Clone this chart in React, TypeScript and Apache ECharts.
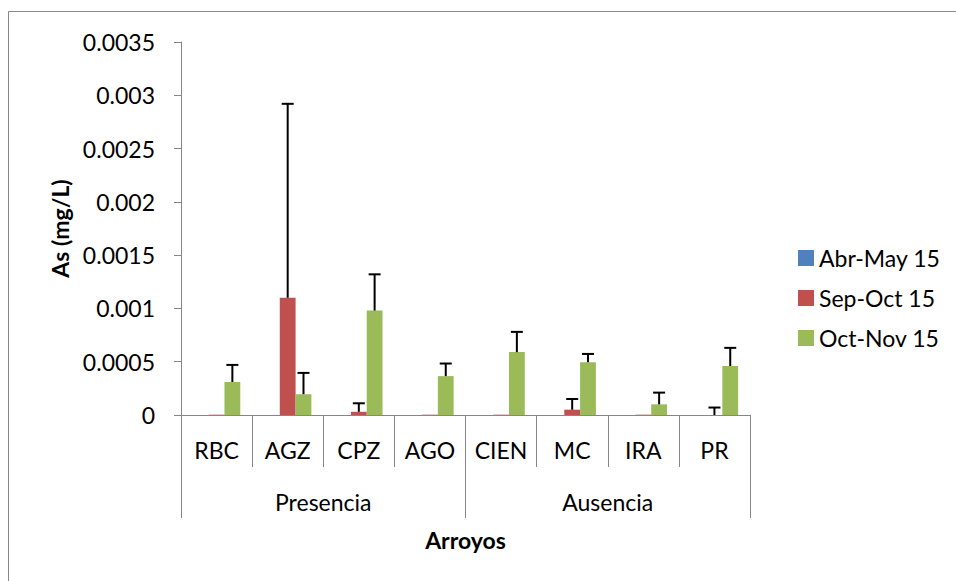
import React, { useEffect, useRef } from "react";
import * as echarts from "echarts";

const categories = ["RBC", "AGZ", "CPZ", "AGO", "CIEN", "MC", "IRA", "PR"];
const groups = ["Presencia", "Ausencia"];
const seriesNames = ["Abr-May 15", "Sep-Oct 15", "Oct-Nov 15"];
const abrMay = [0, 0, 0, 0, 0, 0, 0, 0];
const sepOct = [0.000003, 0.0011, 0.00003, 0.000003, 0.000003, 0.00005, 0.000003, 0];
const sepOctErr = [0, 0.00182, 0.00008, 0, 0, 0.0001, 0, 0.00007];
const octNov = [0.00031, 0.000195, 0.00098, 0.000365, 0.00059, 0.000495, 0.0001, 0.00046];
const octNovErr = [0.00016, 0.0002, 0.00034, 0.000118, 0.00019, 0.000078, 0.00011, 0.00017];
const colors = ["#4F81BD", "#C0504D", "#9BBB59"];

const FONT = "Lato";
const GRAY = "#868686";

function errRenderer(offset: number) {
  return (params: any, api: any) => {
    const idx = api.value(0);
    const v = api.value(1);
    const e = api.value(2);
    if (!e) return null;
    const cw = api.size([1, 0])[0];
    const bw = cw / 4.5;
    const p0 = api.coord([idx, v]);
    const p1 = api.coord([idx, v + e]);
    const x = p0[0] + offset * bw;
    return {
      type: "group",
      children: [
        { type: "line", shape: { x1: x, y1: p0[1], x2: x, y2: p1[1] }, style: { stroke: "#000", lineWidth: 2 } },
        { type: "line", shape: { x1: x - 6, y1: p1[1], x2: x + 6, y2: p1[1] }, style: { stroke: "#000", lineWidth: 2 } },
      ],
    };
  };
}

export default function App() {
  const ref = useRef<HTMLDivElement>(null);
  useEffect(() => {
    if (!ref.current) return;
    const chart = echarts.init(ref.current, undefined, { renderer: "svg" });
    const valueSets = [abrMay, sepOct, octNov];
    chart.setOption({
      animation: false,
      backgroundColor: "#fff",
      textStyle: { fontFamily: FONT },
      graphic: [
        {
          type: "rect",
          shape: { x: 8.5, y: 11.5, width: 1200, height: 1200 },
          style: { fill: "none", stroke: "#898989", lineWidth: 1 },
          silent: true,
        },
      ],
      legend: {
        orient: "vertical",
        left: 793,
        top: 241,
        itemWidth: 16,
        itemHeight: 16,
        itemGap: 16,
        icon: "rect",
        data: seriesNames,
        textStyle: { fontFamily: FONT, fontSize: 23, color: "#000", lineHeight: 24 },
      },
      grid: { left: 181, top: 42, right: 206, bottom: 166, containLabel: false },
      xAxis: [
        {
          type: "category",
          data: categories,
          position: "bottom",
          axisLine: { show: true, lineStyle: { color: GRAY, width: 1 } },
          axisTick: { show: true, length: 52, lineStyle: { color: GRAY, width: 1 } },
          axisLabel: { margin: 23, fontFamily: FONT, fontSize: 23, color: "#000" },
          name: "Arroyos",
          nameLocation: "middle",
          nameGap: 113,
          nameTextStyle: { fontFamily: FONT, fontSize: 23, fontWeight: "bold", color: "#000" },
        },
        {
          type: "category",
          data: groups,
          position: "bottom",
          axisLine: { show: false },
          axisTick: { show: true, length: 103, lineStyle: { color: GRAY, width: 1 } },
          axisLabel: { margin: 75, fontFamily: FONT, fontSize: 23, color: "#000" },
        },
      ],
      yAxis: {
        type: "value",
        min: 0,
        max: 0.0035,
        interval: 0.0005,
        axisLine: { show: true, lineStyle: { color: GRAY, width: 1 } },
        axisTick: { show: true, length: 7, lineStyle: { color: GRAY } },
        splitLine: { show: false },
        axisLabel: {
          margin: 26,
          fontFamily: FONT,
          fontSize: 23,
          color: "#000",
          formatter: (v: number) => String(+v.toFixed(4)),
        },
        name: "As (mg/L)",
        nameLocation: "middle",
        nameGap: 108,
        nameRotate: 90,
        nameTextStyle: { fontFamily: FONT, fontSize: 23, fontWeight: "bold", color: "#000" },
      },
      series: [
        ...seriesNames.map((name, i) => ({
          name,
          type: "bar",
          xAxisIndex: 0,
          data: valueSets[i],
          itemStyle: { color: colors[i] },
          barGap: "0%",
          barCategoryGap: "33.33%",
        })),
        {
          type: "custom",
          name: "err-sep",
          xAxisIndex: 0,
          renderItem: errRenderer(0),
          encode: { x: 0, y: 1 },
          data: categories.map((c, i) => [i, sepOct[i], sepOctErr[i]]),
          z: 5,
        },
        {
          type: "custom",
          name: "err-oct",
          xAxisIndex: 0,
          renderItem: errRenderer(1),
          encode: { x: 0, y: 1 },
          data: categories.map((c, i) => [i, octNov[i], octNovErr[i]]),
          z: 5,
        },
      ],
    });
    return () => chart.dispose();
  }, []);
  return (
    <div
      ref={ref}
      style={{ position: "fixed", left: 0, top: 0, width: 956, height: 581 }}
    />
  );
}
